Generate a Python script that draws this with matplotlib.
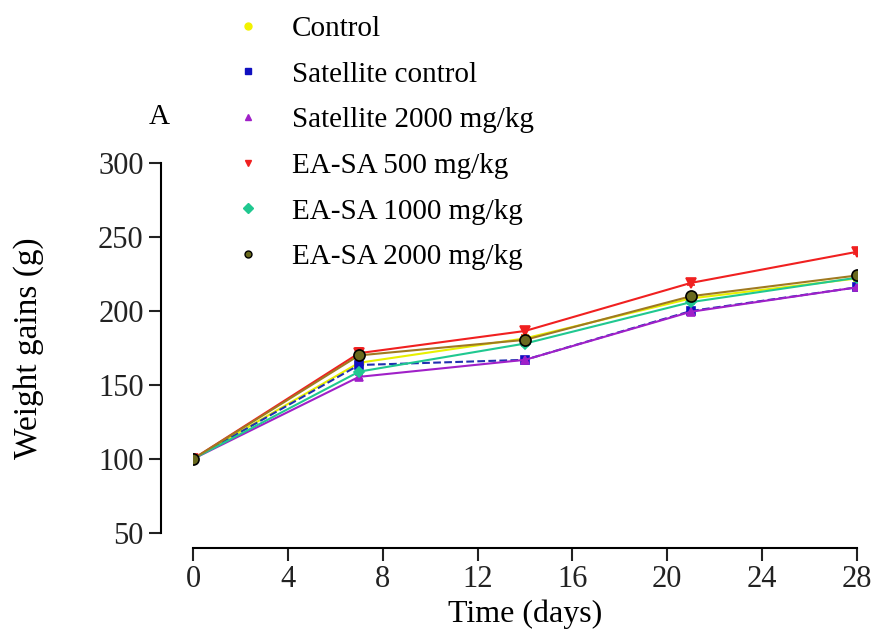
import matplotlib.pyplot as plt
from matplotlib.lines import Line2D

plt.rcParams['font.family'] = ['Liberation Serif', 'DejaVu Serif']

days = [0, 7, 14, 21, 28]
labels = ['Control', 'Satellite control', 'Satellite 2000 mg/kg',
          'EA-SA 500 mg/kg', 'EA-SA 1000 mg/kg', 'EA-SA 2000 mg/kg']
control = [100, 165, 181.5, 208.5, 222]
sat_control = [100, 163.5, 167, 200, 216]
sat_2000 = [100, 155.5, 167, 199.5, 216]
easa_500 = [100, 171.5, 186.5, 219, 240]
easa_1000 = [100, 159, 178, 206, 222.5]
easa_2000 = [100, 170, 180.5, 210, 224]
err_500 = [0, 3.5, 2.5, 1.5, 1.5]
err_other = [0, 1.5, 1.5, 1.5, 1.5]

series = [control, sat_control, sat_2000, easa_500, easa_1000, easa_2000]
colors = ['#f2f200', '#1010c0', '#a020c8', '#f02020', '#20c890', '#6a6a1e']
line_colors = ['#e8f000', '#2030b0', '#a020c8', '#f02020', '#20c890', '#a07a20']
markers = ['o', 's', '^', 'v', 'D', 'o']
sizes = [6, 6, 6, 7, 5, 8]
styles = ['-', '--', '-', '-', '-', '-']
errs = [err_other, err_other, err_other, err_500, err_other, err_other]

fig = plt.figure(figsize=(8.78, 6.37), dpi=100)
ax = fig.add_axes([0.2198, 0.1633, 0.7563, 0.5808])

for vals, c, lc, m, s, ls, e in zip(series, colors, line_colors, markers, sizes, styles, errs):
    edge = 'black' if c == '#6a6a1e' else c
    ax.errorbar(days, vals, yerr=e, color=lc, ls=ls, lw=1.5, marker=m, ms=s,
                mfc=c, mec=edge, mew=1.2, capsize=3, elinewidth=1.2, ecolor=c)

ax.set_xlim(0, 28)
ax.set_ylim(50, 300)
ax.set_xticks(range(0, 29, 4))
ax.set_yticks(range(50, 301, 50))
for side in ['top', 'right']:
    ax.spines[side].set_visible(False)
ax.spines['left'].set_position(('outward', 23))
ax.spines['bottom'].set_position(('outward', 11))
ax.spines['left'].set_linewidth(1.5)
ax.spines['bottom'].set_linewidth(1.5)
ax.tick_params(labelsize=22, width=1.5, length=9, colors='#222222')
ax.tick_params(axis='x', pad=3)
ax.set_xlabel('Time (days)', fontsize=23, va='center')
ax.set_ylabel('Weight gains (g)', fontsize=24, va='center')
ax.xaxis.set_label_coords(0.5, -0.22)
ax.yaxis.set_label_coords(-0.248, 0.5)

handles = []
for c, m in zip(colors, markers):
    edge = 'black' if c == '#6a6a1e' else c
    handles.append(Line2D([], [], ls='none', marker=m, ms=5, mfc=c, mec=edge, mew=1))
fig.legend(handles, labels, loc='upper left', bbox_to_anchor=(0.253, 0.994),
           frameon=False, fontsize=21, labelspacing=0.66, handlelength=1.0,
           handletextpad=1.0, borderaxespad=0.0)

fig.text(0.181, 0.816, 'A', fontsize=21, ha='center', va='center')

fig.savefig('out.png', dpi=100)
